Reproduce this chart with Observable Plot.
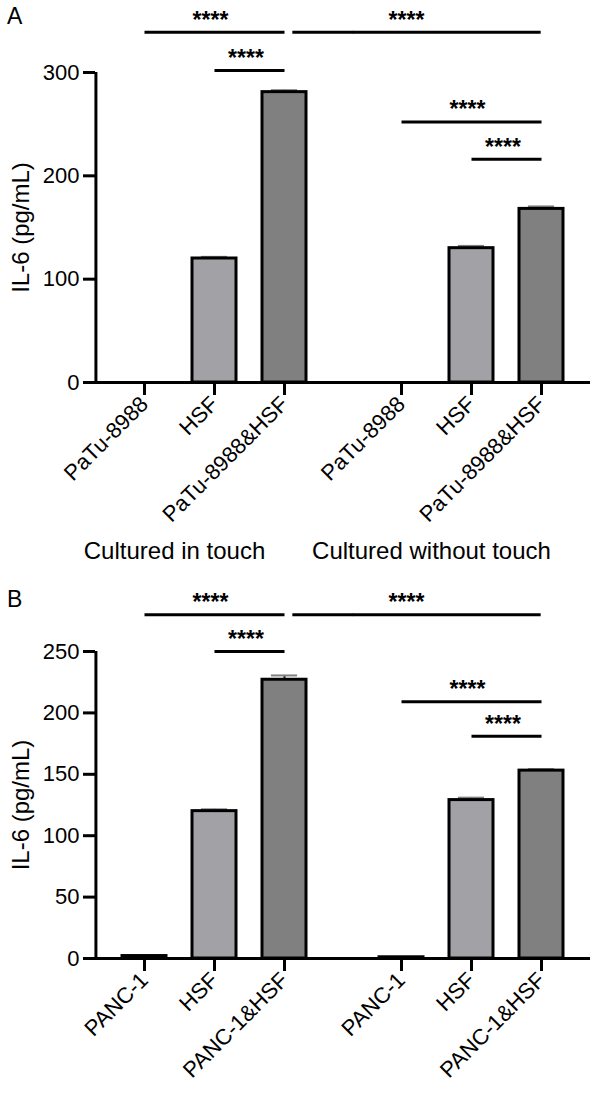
<!DOCTYPE html>
<html><head><meta charset="utf-8">
<script src="https://cdn.jsdelivr.net/npm/d3@7"></script>
<script src="https://cdn.jsdelivr.net/npm/@observablehq/plot@0.6"></script>
<style>
body{margin:0;background:#fff;font-family:"Liberation Sans",Arial,sans-serif;color:#000;}
#wrap{position:relative;width:600px;height:1094px;overflow:hidden;}
#wrap svg{display:block;}
.plabel{position:absolute;left:7px;font-size:23px;line-height:23px;}
</style></head><body><div id="wrap"></div>
<script>
// ---------- data ----------
const groupNames = ["Cultured in touch", "Cultured without touch"];

// Panel A
const catsA = ["PaTu-8988", "HSF", "PaTu-8988&HSF"];
const touchA = [0, 120, 281];
const touchErrA = [0, 1.6, 1.9];
const withoutA = [0, 130, 168];
const withoutErrA = [0, 2.2, 2.4];
const ticksA = [0, 100, 200, 300];
// significance bars: [group index, from category index, to category index, level]
const sigA = [[0, 0, 2, 339], [0, 1, 2, 302], [1, 0, 2, 252], [1, 1, 2, 216]];
const crossLevelA = 339; // touch co-culture vs. without-touch co-culture

// Panel B
const catsB = ["PANC-1", "HSF", "PANC-1&HSF"];
const touchB = [2, 120, 227];
const touchErrB = [0.4, 1.5, 3.5];
const withoutB = [1, 129, 153];
const withoutErrB = [0.3, 2, 1.2];
const ticksB = [0, 50, 100, 150, 200, 250];
const sigB = [[0, 0, 2, 280], [0, 1, 2, 250], [1, 0, 2, 209], [1, 1, 2, 181]];
const crossLevelB = 280;

const stars = "****";
const fills = ["#ffffff", "#a2a2a6", "#808080"];

// ---------- layout ----------
const W = 600, mL = 94, mR = 9;
const fxPad = 0.0736, xPad = 0.37;
const plotW = W - mL - mR;
const fxStep = plotW / (2 - fxPad);
const fxBw = fxStep * (1 - fxPad);
const gap = fxStep * fxPad;
const xStep = fxBw / (3 - xPad + 2 * xPad);
const xBw = xStep * (1 - xPad);
const font = "Liberation Sans, Arial, sans-serif";
const starStyle = {fontSize: 23, fontWeight: "bold", dy: -12};

function panel(cats, vals, errs, yMax, ticks, sig, crossLevel, height, mT, mB, showGroups) {
  const rows = [];
  groupNames.forEach((g, gi) => cats.forEach((c, ci) => rows.push({g, c, v: vals[gi][ci], e: errs[gi][ci]})));
  const errRows = rows.filter(d => d.e > 0 && d.v > 5);

  const sigMarks = sig.flatMap(([gi, a, b, lvl]) => {
    const d = [{g: groupNames[gi], a: cats[a], b: cats[b], lvl}];
    const span = b - a;
    const mid = cats[a + Math.floor(span / 2)];
    return [
      Plot.link(d, {fx: "g", x1: "a", x2: "b", y1: "lvl", y2: "lvl", stroke: "#000", strokeWidth: 3}),
      Plot.text(d, {fx: "g", x: () => mid, y: "lvl", text: () => stars, dx: span % 2 ? xStep / 2 - 4 : -4, ...starStyle})
    ];
  });

  const cross0 = [{g: groupNames[0], a: cats[2], b: cats[2], lvl: crossLevel}];
  const cross1 = [{g: groupNames[1], a: cats[0], b: cats[2], lvl: crossLevel}];

  const marks = [
    // axes
    Plot.axisX({tickRotate: -45, tickSize: 13, tickPadding: 5, fontSize: 22, strokeWidth: 3, stroke: "#000", label: null}),
    Plot.axisY({ticks, tickSize: 12, tickPadding: 4, fontSize: 22, strokeWidth: 3, stroke: "#000", label: null}),
    // error bars
    Plot.ruleX(errRows, {fx: "g", x: "c", y1: "v", y2: d => d.v + d.e, stroke: "#222", strokeWidth: 2}),
    Plot.tickY(errRows, {fx: "g", x: "c", y: d => d.v + d.e, stroke: "#808080", strokeWidth: 2, inset: xBw * 0.2}),
    // bars
    Plot.barY(rows, {fx: "g", x: "c", y: "v", fill: "c", stroke: "#000", strokeWidth: 3}),
    // x axis line (continuous across groups)
    Plot.ruleY([{g: groupNames[0], y: 0}], {fx: "g", y: "y", stroke: "#000", strokeWidth: 3, insetRight: -gap - 1}),
    Plot.ruleY([{g: groupNames[1], y: 0}], {fx: "g", y: "y", stroke: "#000", strokeWidth: 3}),
    // y axis line
    Plot.ruleX([{g: groupNames[0]}], {fx: "g", x: () => cats[0], dx: -(xPad * xStep + xBw / 2), stroke: "#000", strokeWidth: 3}),
    // y axis title
    Plot.text([{g: groupNames[0]}], {fx: "g", text: () => "IL-6 (pg/mL)", frameAnchor: "left", textAnchor: "middle", rotate: -90, dx: -74, fontSize: 24}),
    // significance bars
    ...sigMarks,
    Plot.ruleY(cross0, {fx: "g", x1: "a", x2: "b", y: "lvl", stroke: "#000", strokeWidth: 3,
      insetLeft: xBw / 2 + 8, insetRight: -(xPad * xStep + gap + 2)}),
    Plot.ruleY(cross1, {fx: "g", x1: "a", x2: "b", y: "lvl", stroke: "#000", strokeWidth: 3,
      insetLeft: -xPad * xStep, insetRight: xBw / 2}),
    Plot.text(cross1, {fx: "g", x: "a", y: "lvl", text: () => stars, dx: 5, ...starStyle})
  ];
  if (showGroups) {
    marks.push(Plot.text(groupNames.map(g => ({g})), {fx: "g", text: "g", frameAnchor: "bottom", dy: 176, dx: -40, fontSize: 24}));
  }

  return Plot.plot({
    width: W, height,
    marginLeft: mL, marginRight: mR, marginTop: mT, marginBottom: mB,
    style: {fontFamily: font, fontSize: "22px", color: "#000", background: "#fff", overflow: "visible"},
    fx: {domain: groupNames, paddingInner: fxPad, paddingOuter: 0, axis: null},
    x: {domain: cats, paddingInner: xPad, paddingOuter: xPad},
    y: {domain: [0, yMax]},
    color: {domain: cats, range: fills},
    marks
  });
}

const wrap = document.getElementById("wrap");
const svgA = panel(catsA, [touchA, withoutA], [touchErrA, withoutErrA], 300, ticksA, sigA, crossLevelA, 580, 72, 198, true);
const svgB = panel(catsB, [touchB, withoutB], [touchErrB, withoutErrB], 250, ticksB, sigB, crossLevelB, 514, 71, 136, false);
wrap.appendChild(svgA);
wrap.appendChild(svgB);
const la = document.createElement("div"); la.className = "plabel"; la.style.top = "5px"; la.textContent = "A"; wrap.appendChild(la);
const lb = document.createElement("div"); lb.className = "plabel"; lb.style.top = "588px"; lb.textContent = "B"; wrap.appendChild(lb);
</script>
</body></html>
